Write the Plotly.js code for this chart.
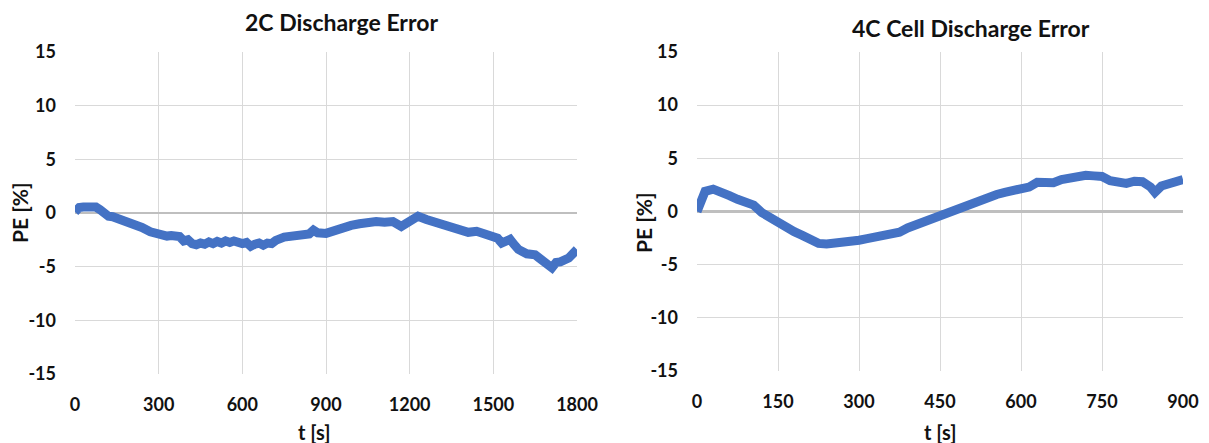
<!DOCTYPE html>
<html>
<head>
<meta charset="utf-8">
<script src="https://cdn.plot.ly/plotly-3.0.1.min.js"></script>
<style>html,body{margin:0;padding:0;background:#fff;}#chart{width:1209px;height:443px;}</style>
</head>
<body>
<div id="chart"></div>
<script>
// 2C discharge error
const t2C = [0,15,30,45,60,75,90,105,120,135,150,165,180,195,210,240,270,300,315,330,345,360,375,390,405,420,435,450,465,480,495,510,525,540,555,570,585,600,615,630,645,660,675,690,705,720,750,780,810,840,855,870,900,930,960,990,1020,1050,1080,1110,1140,1170,1200,1230,1260,1290,1320,1350,1380,1410,1440,1470,1500,1515,1530,1560,1575,1590,1620,1650,1665,1680,1710,1725,1740,1770,1800];
const pe2C = [0.1,0.5,0.55,0.6,0.7,0.55,0.3,-0.1,-0.3,-0.35,-0.5,-0.55,-0.7,-0.75,-0.95,-1.35,-1.75,-2.05,-2.0,-2.15,-2.1,-2.25,-2.2,-2.6,-2.5,-2.85,-2.95,-2.8,-2.9,-2.7,-2.85,-2.65,-2.8,-2.6,-2.75,-2.6,-2.8,-2.85,-2.75,-3.1,-2.9,-2.8,-3.0,-2.8,-2.85,-2.55,-2.25,-2.1,-2.15,-1.95,-1.6,-1.85,-1.9,-1.6,-1.35,-1.15,-1.0,-0.85,-0.8,-0.85,-0.8,-1.25,-0.75,-0.3,-0.6,-0.85,-1.1,-1.35,-1.7,-1.8,-1.7,-2.0,-2.3,-2.35,-2.8,-2.45,-2.95,-3.4,-3.8,-3.9,-4.2,-4.55,-5.1,-4.6,-4.55,-4.2,-3.4];
// 4C cell discharge error
const t4C = [0,6,15,30,45,60,75,90,105,120,135,150,165,180,195,210,225,240,255,270,285,300,315,330,345,360,375,390,405,420,435,450,465,480,495,510,525,540,555,570,585,600,615,630,645,660,675,690,705,720,735,750,765,780,795,810,825,840,848,860,875,890,900];
const pe4C = [0,1.0,1.9,2.1,1.9,1.5,1.15,0.9,0.6,-0.1,-0.6,-1.1,-1.55,-1.9,-2.25,-2.6,-3.0,-3.05,-3.0,-2.9,-2.8,-2.7,-2.55,-2.45,-2.3,-2.25,-1.95,-1.55,-1.25,-1.0,-0.75,-0.5,-0.1,0.25,0.55,0.8,1.1,1.4,1.6,1.8,1.95,2.0,2.3,2.75,2.7,2.7,3.0,3.15,3.25,3.4,3.35,3.3,2.9,2.8,2.65,2.85,2.8,2.3,1.8,2.4,2.6,2.8,3.0];
const yTicks = [-15,-10,-5,0,5,10,15];
const xTicks2C = [0,300,600,900,1200,1500,1800];
const xTicks4C = [0,150,300,450,600,750,900];
const titles = ["2C Discharge Error","4C Cell Discharge Error"];
const xTitle = "t [s]";
const yTitle = "PE [%]";

const blue = "#4472C4";
const fontFam = "Lato, 'Open Sans', sans-serif";
const tickFont = {family: fontFam, size: 18, color: "#111", weight: 700};

const traces = [
  {x: t2C, y: pe2C, type: "scatter", mode: "lines", line: {color: blue, width: 9, shape: "linear"}, xaxis: "x", yaxis: "y", hoverinfo: "skip"},
  {x: t4C, y: pe4C, type: "scatter", mode: "lines", line: {color: blue, width: 9, shape: "linear"}, xaxis: "x2", yaxis: "y2", hoverinfo: "skip"}
];

function xa(dom, ticks, anchor){
  return {domain: dom, range: [ticks[0], ticks[ticks.length-1]], tickvals: ticks, ticktext: ticks.map(String),
    showgrid: true, gridcolor: "#d9d9d9", gridwidth: 1, zeroline: false, showline: false,
    ticks: "", ticklabelstandoff: 18, tickfont: tickFont, anchor: anchor, fixedrange: true};
}
function ya(dom, anchor){
  return {domain: dom, range: [-15, 15], tickvals: yTicks, ticktext: yTicks.map(String),
    showgrid: true, gridcolor: "#d9d9d9", gridwidth: 1, zeroline: true, zerolinecolor: "#bfbfbf", zerolinewidth: 2.5,
    showline: false, ticks: "", ticklabelstandoff: 18, tickfont: tickFont, anchor: anchor, fixedrange: true};
}

const W = 1209, H = 443;
const titleFont = {family: fontFam, size: 23, color: "#111", weight: 700};
const axTitleFont = {family: fontFam, size: 20, color: "#111", weight: 700};
const layout = {
  width: W, height: H, margin: {l: 0, r: 0, t: 0, b: 0},
  paper_bgcolor: "#fff", plot_bgcolor: "#fff", showlegend: false,
  xaxis: xa([75/W, 577/W], xTicks2C, "y"),
  yaxis: ya([1-374/H, 1-52/H], "x"),
  xaxis2: xa([697/W, 1183/W], xTicks4C, "y2"),
  yaxis2: ya([1-371/H, 1-52/H], "x2"),
  annotations: [
    {text: titles[0], xref: "paper", yref: "paper", x: 341/W, y: 1-22/H, showarrow: false, xanchor: "center", yanchor: "middle", font: titleFont},
    {text: titles[1], xref: "paper", yref: "paper", x: 971/W, y: 1-28/H, showarrow: false, xanchor: "center", yanchor: "middle", font: titleFont},
    {text: xTitle, xref: "paper", yref: "paper", x: 314/W, y: 1-432/H, showarrow: false, xanchor: "center", yanchor: "middle", font: axTitleFont},
    {text: xTitle, xref: "paper", yref: "paper", x: 940/W, y: 1-432/H, showarrow: false, xanchor: "center", yanchor: "middle", font: axTitleFont},
    {text: yTitle, xref: "paper", yref: "paper", x: 20/W, y: 1-213/H, showarrow: false, textangle: -90, xanchor: "center", yanchor: "middle", font: {family: fontFam, size: 21, color: "#111", weight: 700}},
    {text: yTitle, xref: "paper", yref: "paper", x: 644/W, y: 1-223/H, showarrow: false, textangle: -90, xanchor: "center", yanchor: "middle", font: {family: fontFam, size: 21, color: "#111", weight: 700}}
  ]
};
Plotly.newPlot("chart", traces, layout, {staticPlot: true, displayModeBar: false});
</script>
</body>
</html>
